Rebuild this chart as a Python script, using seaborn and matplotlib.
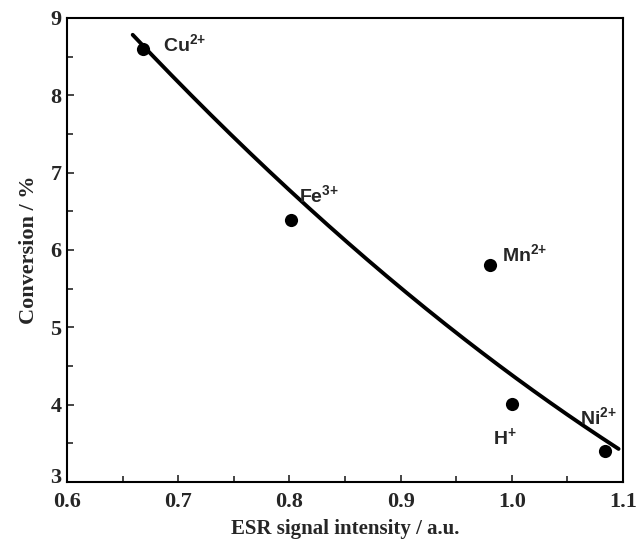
import numpy as np
import pandas as pd
import matplotlib
matplotlib.use("Agg")
import matplotlib.pyplot as plt
import matplotlib.transforms as mtransforms
import seaborn as sns
from matplotlib.ticker import MultipleLocator

# measured points
ions = ["Cu$^{\\mathbf{2{+}}}$", "Fe$^{\\mathbf{3{+}}}$", "Mn$^{\\mathbf{2{+}}}$", "H$^{\\mathbf{{+}}}$", "Ni$^{\\mathbf{2{+}}}$"]
esr = [0.668, 0.801, 0.980, 1.000, 1.084]
conversion = [8.60, 6.39, 5.80, 4.01, 3.40]

# where each label sits
label_x = [0.686, 0.809, 0.991, 0.983, 1.061]
label_y = [8.56, 6.61, 5.84, 3.48, 3.73]

# points
curve_x = [0.659, 0.8275, 0.8995, 1.000, 1.096]
curve_y = [8.78, 6.43, 5.48, 4.41, 3.42]

x_ticks = [0.6, 0.7, 0.8, 0.9, 1.0, 1.1]
y_ticks = [3, 4, 5, 6, 7, 8, 9]

sns.set_theme(style="ticks")
plt.rcParams["font.family"] = ["Liberation Serif", "DejaVu Serif"]
plt.rcParams["mathtext.fontset"] = "custom"
plt.rcParams["mathtext.rm"] = "Liberation Sans:bold"
plt.rcParams["mathtext.bf"] = "Liberation Sans:bold"

fig = plt.figure(figsize=(6.39, 5.41), dpi=100)
ax = fig.add_axes([0.105, 0.109, 0.870, 0.858])

df = pd.DataFrame({"esr": esr, "conversion": conversion})
sns.scatterplot(data=df, x="esr", y="conversion", ax=ax, color="black", s=90,
                edgecolor="black", linewidth=0, zorder=3)

coef = np.polyfit(curve_x, curve_y, 2)
xs = np.linspace(curve_x[0], curve_x[-1], 200)
fit = pd.DataFrame({"x": xs, "y": np.polyval(coef, xs)})
sns.lineplot(data=fit, x="x", y="y", ax=ax, color="black", linewidth=2.8, zorder=2)

for name, tx, ty in zip(ions, label_x, label_y):
    ax.text(tx, ty, name, fontsize=14, fontweight="bold", family="Liberation Sans",
            va="baseline", ha="left")

ax.set_xlim(0.6, 1.1)
ax.set_ylim(3, 9)
ax.set_xticks(x_ticks)
ax.set_xticklabels([f"{v:.1f}" for v in x_ticks], fontweight="bold")
ax.set_yticks(y_ticks)
ax.set_yticklabels([str(v) for v in y_ticks], fontweight="bold")
ax.xaxis.set_minor_locator(MultipleLocator(0.05))
ax.yaxis.set_minor_locator(MultipleLocator(0.5))
ax.tick_params(which="both", direction="in", top=False, right=False, width=1.2)
ax.tick_params(which="major", length=5, labelsize=16)
ax.tick_params(axis="x", which="major", pad=7)
ax.tick_params(axis="y", which="major", pad=4)
ax.tick_params(which="minor", length=4)
for sp in ax.spines.values():
    sp.set_linewidth(1.5)
    sp.set_color("black")

# the bottom "3" sits a little above its tick, clear of "0.6"
lab3 = ax.get_yticklabels()[0]
lab3.set_transform(lab3.get_transform() +
                   mtransforms.ScaledTranslation(0, 7 / 100, fig.dpi_scale_trans))

ax.set_xlabel("ESR signal intensity / a.u.", fontsize=15, fontweight="bold", labelpad=5)
ax.set_ylabel("Conversion / %", fontsize=16, fontweight="bold", labelpad=8)

fig.savefig("out.png", dpi=100)
